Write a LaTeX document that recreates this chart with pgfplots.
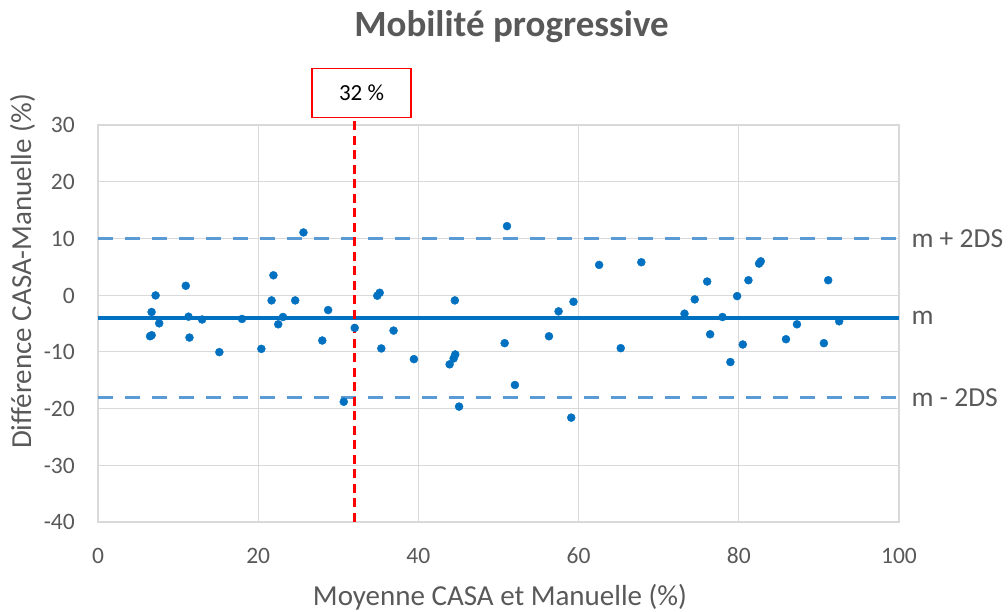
\documentclass[border=0pt]{standalone}
\usepackage{pgfplots}
\pgfplotsset{compat=1.18}
\usepackage{fontspec}
\setmainfont{Carlito}
\definecolor{txt}{HTML}{595959}
\definecolor{ptc}{HTML}{0070C0}
\definecolor{lim}{HTML}{5B9BD5}
\definecolor{grd}{HTML}{D9D9D9}
\begin{document}
\begin{tikzpicture}[x=1pt,y=1pt]
\path[use as bounding box] (0,0) rectangle (1008,612);
\begin{axis}[
 at={(98pt,90pt)}, anchor=south west,
 scale only axis, width=801pt, height=397pt,
 xmin=0,xmax=100,ymin=-40,ymax=30,
 xtick={0,20,40,60,80,100}, ytick={-40,-30,-20,-10,0,10,20,30},
 xticklabels={0,20,40,60,80,100},
 yticklabels={-40,-30,-20,-10,0,10,20,30},
 grid=major, major grid style={grd, line width=1.2pt},
 axis line style={grd, line width=1.2pt},
 tick style={draw=none},
 ticklabel style={font=\fontsize{23.5}{27}\selectfont, text=txt, inner sep=0pt},
 xticklabel style={anchor=base, yshift=-41.3pt},
 yticklabel style={anchor=base east, xshift=-23pt, yshift=-8pt},
 clip=false,
]
\addplot[ptc, line width=3.5pt] coordinates {(0,-4.05) (100,-4.05)};
\addplot[lim, line width=3pt, dash pattern=on 15pt off 12pt] coordinates {(0,9.9) (100,9.9)};
\addplot[lim, line width=3pt, dash pattern=on 15pt off 12pt] coordinates {(0,-18.0) (100,-18.0)};
\addplot[red, line width=2.5pt, dash pattern=on 9pt off 5.5pt] coordinates {(32,-40) (32,31.35)};
\addplot[only marks, mark=*, mark size=4pt, mark options={fill=ptc, draw=ptc}] coordinates {
(25.65,11.05) (21.9,3.5) (10.96,1.65) (7.19,-0.05) (21.67,-0.93) (24.62,-0.93)
(6.69,-2.98) (28.73,-2.63) (11.3,-3.8) (23.09,-3.85) (13.0,-4.3) (17.98,-4.2)
(7.64,-4.97) (22.5,-5.14) (32.05,-5.78) (6.5,-7.25) (6.7,-7.07) (11.42,-7.48)
(28.0,-8.0) (20.39,-9.47) (15.15,-10.05) (30.68,-18.8)
(51.06,12.17) (62.56,5.33) (35.17,0.42) (34.87,-0.1) (44.55,-0.93) (59.36,-1.17)
(57.5,-2.86) (36.9,-6.25) (56.3,-7.25) (50.77,-8.47) (35.37,-9.4) (39.44,-11.28)
(44.6,-10.46) (44.4,-11.16) (43.9,-12.2) (52.05,-15.84) (45.08,-19.65) (59.08,-21.6)
(67.83,5.8) (82.74,5.96) (82.53,5.56) (76.05,2.4) (81.2,2.63) (91.16,2.63)
(74.5,-0.75) (79.79,-0.17) (73.22,-3.27) (77.96,-3.86) (92.53,-4.61) (87.26,-5.14)
(76.42,-6.9) (85.89,-7.77) (65.26,-9.35) (80.5,-8.7) (90.62,-8.47) (78.95,-11.8)
};
\node[draw=red, line width=1.5pt, fill=white, minimum width=99pt, minimum height=49pt, inner sep=0pt, font=\fontsize{23}{27}\selectfont] at (axis cs:32.9,35.6) {32 \%};
\node[anchor=west, text=txt, font=\fontsize{27.5}{31}\selectfont, xshift=9pt] at (axis cs:100,9.9) {m + 2DS};
\node[anchor=west, text=txt, font=\fontsize{27.5}{31}\selectfont, xshift=9pt] at (axis cs:100,-4.05) {m};
\node[anchor=west, text=txt, font=\fontsize{27.5}{31}\selectfont, xshift=9pt] at (axis cs:100,-18.0) {m - 2DS};
\end{axis}
\node[anchor=base, text=txt, font=\fontsize{37}{41}\selectfont\bfseries] at (511.5,575.3) {Mobilité progressive};
\node[text=txt, font=\fontsize{29}{33}\selectfont] at (500,15) {Moyenne CASA et Manuelle (\%)};
\node[anchor=base, text=txt, font=\fontsize{29}{33}\selectfont, rotate=90] at (31,340.5) {Différence CASA-Manuelle (\%)};
\end{tikzpicture}
\end{document}
